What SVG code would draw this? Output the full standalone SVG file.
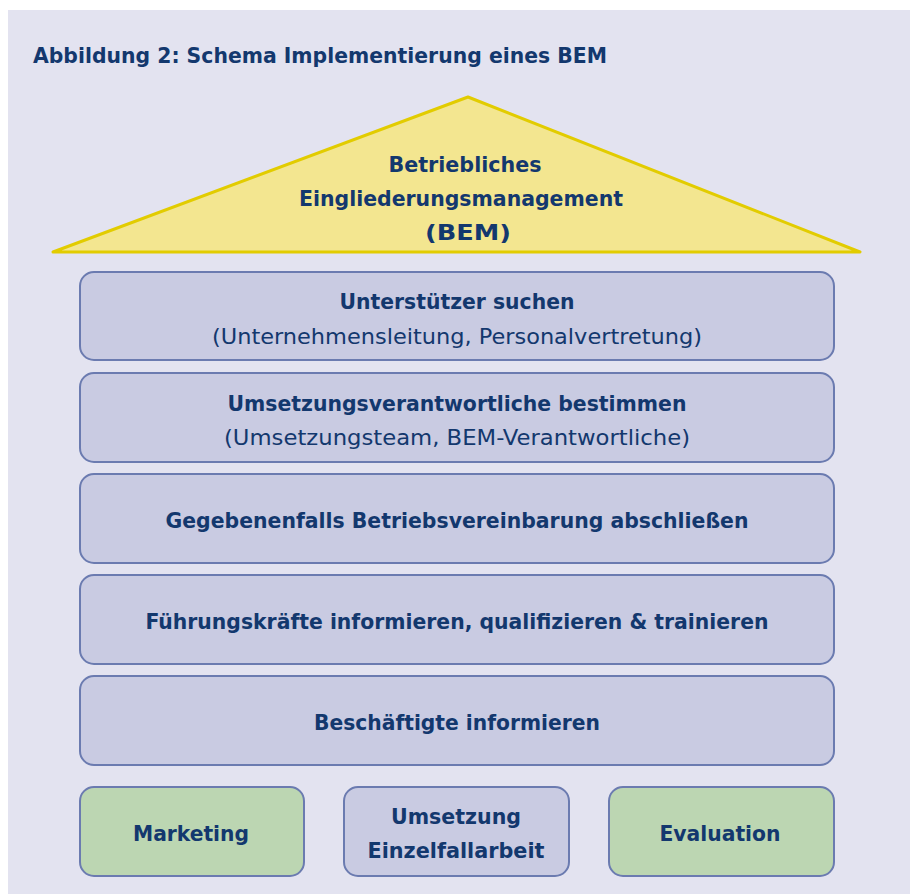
<svg xmlns="http://www.w3.org/2000/svg" width="910" height="894" viewBox="0 0 910 894">
<style>
.t{font-family:"DejaVu Sans Condensed","DejaVu Sans","Liberation Sans",sans-serif;font-size:22px;fill:#13386e;text-anchor:middle}
.b{font-weight:bold}
.box{fill:#c9cbe2;stroke:#6b7bb0;stroke-width:2}
.grn{fill:#bcd6b2;stroke:#6b7bb0;stroke-width:2}
</style>
<rect x="0" y="0" width="910" height="894" fill="#ffffff"/>
<rect x="8" y="10" width="902" height="884" fill="#e3e3f0"/>
<text class="t b" x="33" y="63" style="text-anchor:start" textLength="574" lengthAdjust="spacingAndGlyphs">Abbildung 2: Schema Implementierung eines BEM</text>
<g id="roof">
<polygon points="468,97 860,252 53,252" fill="#f3e690" stroke="#e2cc00" stroke-width="3" stroke-linejoin="round"/>
<text class="t b" x="465" y="172" textLength="153" lengthAdjust="spacingAndGlyphs">Betriebliches</text>
<text class="t b" x="461" y="206" textLength="324" lengthAdjust="spacingAndGlyphs">Eingliederungsmanagement</text>
<text class="t b" x="468" y="240" textLength="86" lengthAdjust="spacingAndGlyphs">(BEM)</text>
</g>
<g id="n1">
<rect class="box" x="80" y="272" width="754" height="88" rx="14"/>
<text class="t b" x="457" y="309" textLength="235" lengthAdjust="spacingAndGlyphs">Unterstützer suchen</text>
<text class="t" x="457" y="344" textLength="490" lengthAdjust="spacingAndGlyphs">(Unternehmensleitung, Personalvertretung)</text>
</g>
<g id="n2">
<rect class="box" x="80" y="373" width="754" height="89" rx="14"/>
<text class="t b" x="457" y="411" textLength="459" lengthAdjust="spacingAndGlyphs">Umsetzungsverantwortliche bestimmen</text>
<text class="t" x="457" y="445" textLength="466" lengthAdjust="spacingAndGlyphs">(Umsetzungsteam, BEM-Verantwortliche)</text>
</g>
<g id="n3">
<rect class="box" x="80" y="474" width="754" height="89" rx="14"/>
<text class="t b" x="457" y="528" textLength="583" lengthAdjust="spacingAndGlyphs">Gegebenenfalls Betriebsvereinbarung abschließen</text>
</g>
<g id="n4">
<rect class="box" x="80" y="575" width="754" height="89" rx="14"/>
<text class="t b" x="457" y="629" textLength="623" lengthAdjust="spacingAndGlyphs">Führungskräfte informieren, qualifizieren &amp; trainieren</text>
</g>
<g id="n5">
<rect class="box" x="80" y="676" width="754" height="89" rx="14"/>
<text class="t b" x="457" y="730" textLength="286" lengthAdjust="spacingAndGlyphs">Beschäftigte informieren</text>
</g>
<g id="marketing">
<rect class="grn" x="80" y="787" width="224" height="89" rx="14"/>
<text class="t b" x="191" y="841" textLength="116" lengthAdjust="spacingAndGlyphs">Marketing</text>
</g>
<g id="umsetzung">
<rect class="box" x="344" y="787" width="225" height="89" rx="14"/>
<text class="t b" x="456" y="824" textLength="130" lengthAdjust="spacingAndGlyphs">Umsetzung</text>
<text class="t b" x="456" y="858" textLength="177" lengthAdjust="spacingAndGlyphs">Einzelfallarbeit</text>
</g>
<g id="evaluation">
<rect class="grn" x="609" y="787" width="225" height="89" rx="14"/>
<text class="t b" x="720" y="841" textLength="121" lengthAdjust="spacingAndGlyphs">Evaluation</text>
</g>
<g id="connectors"></g>
</svg>
